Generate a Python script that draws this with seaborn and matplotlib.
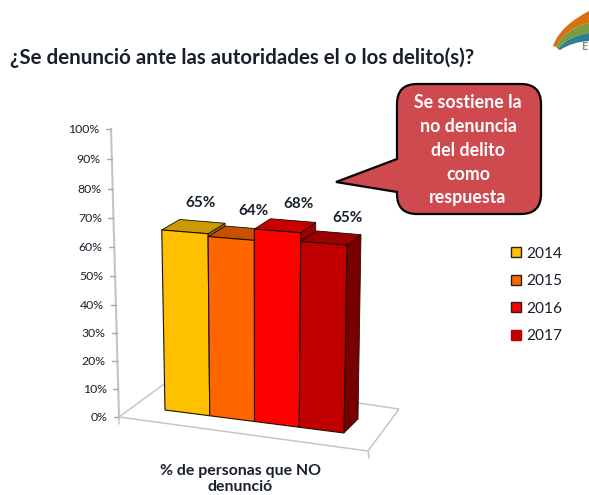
import numpy as np
import pandas as pd
import seaborn as sns
import matplotlib
matplotlib.use("Agg")
import matplotlib.pyplot as plt
from matplotlib.transforms import Transform
from matplotlib.patches import PathPatch, Polygon, Patch
from matplotlib.path import Path

# ---- data ----
years = ["2014", "2015", "2016", "2017"]
values = [65, 64, 68, 65]
value_labels = ["65%", "64%", "68%", "65%"]
axis_ticks = [0, 10, 20, 30, 40, 50, 60, 70, 80, 90, 100]
title = "¿Se denunció ante las autoridades el o los delito(s)?"
category_label = "% de personas que NO\ndenunció"
callout_lines = ["Se sostiene la", "no denuncia", "del delito", "como", "respuesta"]

# ---- styles ----
front_colors = ["#FFC000", "#FF6600", "#FF0000", "#C00000"]
top_colors = ["#CC9A00", "#C85000", "#C80000", "#9C0000"]
side_colors = ["#99730A", "#963C00", "#A00000", "#780000"]
label_nudge = [(16, -29), (22, -27), (21, -27), (24, -25)]
W, H = 589, 495

sns.set_theme(style="white")
plt.rcParams["font.family"] = ["Lato", "DejaVu Sans"]
TXT = "#18202c"


def front_xy(c, v):
    """Perspective of the front plane: category edge c (0..4), percent v -> pixels."""
    c, v = np.asarray(c, float), np.asarray(v, float)
    x = 165 + 44.75 * c - (5 - 2.4 * c) * v / 100
    y = 410 + 5.75 * c - (2.77 + 0.03 * c) * v
    return x, y


def depth_xy(c, v):
    x, y = front_xy(c, v)
    return x + 18 - c, y - (14 - 0.054 * v)


class Perspective(Transform):
    input_dims = output_dims = 2

    def transform_non_affine(self, values):
        values = np.asarray(values, float)
        x, y = front_xy(values[:, 0] + 0.5, values[:, 1])
        return np.column_stack([x, H - y])


fig = plt.figure(figsize=(W / 100, H / 100), dpi=100, facecolor="white")

# pixel overlay underneath the bars
under = fig.add_axes([0, 0, 1, 1], zorder=1)
under.set_xlim(0, W)
under.set_ylim(H, 0)
under.set_axis_off()

ax = fig.add_axes([0.2, 0.15, 0.4, 0.6], zorder=2)
df = pd.DataFrame({"year": years, "pct": values})
sns.barplot(data=df, x="year", y="pct", hue="year", palette=front_colors,
            saturation=1, width=1, dodge=False, legend=False, ax=ax,
            edgecolor="#1a1000", linewidth=0.8)
ax.set_ylim(0, 100)
ax.set_axis_off()
proj = Perspective()
bars = list(ax.patches)
for r in bars:
    r.set_transform(proj)
    r.set_clip_on(False)

# floor
floor_c = "#c6c6c6"
under.add_patch(Polygon([(119, 417), (368, 451), (399, 409), (175, 376)], closed=True,
                        fc="white", ec=floor_c, lw=1.1, zorder=1))
under.plot([368, 369], [451, 458], color=floor_c, lw=1.1, zorder=1)
under.plot([119, 119], [417, 424], color=floor_c, lw=1.1, zorder=1)


# value axis
def axis_xy(v):
    v = np.asarray(v, float)
    return 111 + 8 * (100 - v) / 100, 417 - 2.75 * v - 0.0013 * v * v


ax_x, ax_y = axis_xy(np.array([0, 100]))
under.plot(ax_x, ax_y, color="#c4c4c4", lw=1.5, zorder=2)
for t in axis_ticks:
    tx, ty = axis_xy(t)
    under.plot([tx - 5, tx], [ty, ty], color="#a8a8a8", lw=1.0, zorder=2)
    under.text(tx - 11.5, ty + 0.5, f"{t}%", ha="right", va="center", fontsize=8.8, color=TXT)

# tops and sides, low bars first so the taller ones overlap them
for k, i in enumerate(np.argsort(values, kind="stable")):
    r = bars[i]
    c0, c1, v = r.get_x() + 0.5, r.get_x() + r.get_width() + 0.5, r.get_height()
    # the right side shows only down to the top of the next bar
    low = values[i + 1] if i + 1 < len(values) else 0
    if low < v:
        fr = [tuple(map(float, front_xy(c1, v))), tuple(map(float, front_xy(c1, low)))]
        bk = [tuple(map(float, depth_xy(c1, low))), tuple(map(float, depth_xy(c1, v)))]
        under.add_patch(Polygon(fr + bk, closed=True, fc=side_colors[i], ec="#1a1000", lw=0.6, zorder=5 + k))
    top = [tuple(map(float, front_xy(c0, v))), tuple(map(float, front_xy(c1, v))),
           tuple(map(float, depth_xy(c1, v))), tuple(map(float, depth_xy(c0, v)))]
    under.add_patch(Polygon(top, closed=True, fc=top_colors[i], ec="#1a1000", lw=0.6, zorder=5 + k))

# value labels
for i, r in enumerate(bars):
    mx, my = front_xy(r.get_x() + 0.5 + r.get_width() / 2, r.get_height())
    under.text(mx + label_nudge[i][0], my + label_nudge[i][1], value_labels[i], ha="center",
               va="center", fontsize=11, fontweight="bold", color=TXT, zorder=20)

# texts
under.text(10, 58, title, ha="left", va="center", fontsize=14.8, fontweight="bold", color=TXT)
under.text(240, 479, category_label, ha="center", va="center", fontsize=11.4, fontweight="bold",
           color=TXT, linespacing=1.25)

# callout
L, R, T, B, q = 397, 541, 84, 214, 20
verts = [(L + q, T), (R - q, T), (R, T), (R, T + q), (R, B - q), (R, B), (R - q, B), (L + q, B),
         (L, B), (L, B - q), (L, 192), (336, 182), (L, 159), (L, T + q), (L, T), (L + q, T), (L + q, T)]
codes = [Path.MOVETO, Path.LINETO, Path.CURVE3, Path.CURVE3, Path.LINETO, Path.CURVE3, Path.CURVE3,
         Path.LINETO, Path.CURVE3, Path.CURVE3, Path.LINETO, Path.LINETO, Path.LINETO, Path.LINETO,
         Path.CURVE3, Path.CURVE3, Path.CLOSEPOLY]
under.add_patch(PathPatch(Path(verts, codes), fc="#CF4A4F", ec="black", lw=1.6, zorder=10))
for line, yy in zip(callout_lines, [102, 127, 151, 175, 197]):
    under.text(468, yy, line, ha="center", va="center", fontsize=12.8, fontweight="bold",
               color="white", zorder=11)

# legend
handles = [Patch(fc=front_colors[i], ec="#222222" if i < 3 else front_colors[i], lw=1.0, label=years[i])
           for i in range(4)]
leg = under.legend(handles=handles, loc="center left", bbox_to_anchor=(511 / W, 1 - 295 / H),
                   bbox_transform=fig.transFigure, frameon=False, fontsize=11.2, labelcolor=TXT,
                   handlelength=0.65, handleheight=0.65, handletextpad=0.35, labelspacing=0.87,
                   borderpad=0, borderaxespad=0)


# corner logo
def band(color, pts):
    cd = [Path.MOVETO, Path.CURVE3, Path.CURVE3, Path.LINETO, Path.CURVE3, Path.CURVE3, Path.CLOSEPOLY]
    under.add_patch(PathPatch(Path(pts + [pts[0]], cd), fc=color, ec="none", zorder=3, clip_on=True))


band("#D9700F", [(553, 46), (560, 26), (589, 11), (589, 23), (566, 28), (556, 47)])
band("#7C9A3E", [(556, 47), (566, 28), (589, 23), (589, 33), (568, 36), (558, 49)])
band("#2F7F94", [(558, 49), (568, 36), (589, 33), (589, 41), (572, 42), (560, 50)])
under.text(581, 46, "E", fontsize=8, color="#8a8a8a", ha="left", va="center", fontweight="bold", clip_on=True)

fig.savefig("out.png", dpi=100)
